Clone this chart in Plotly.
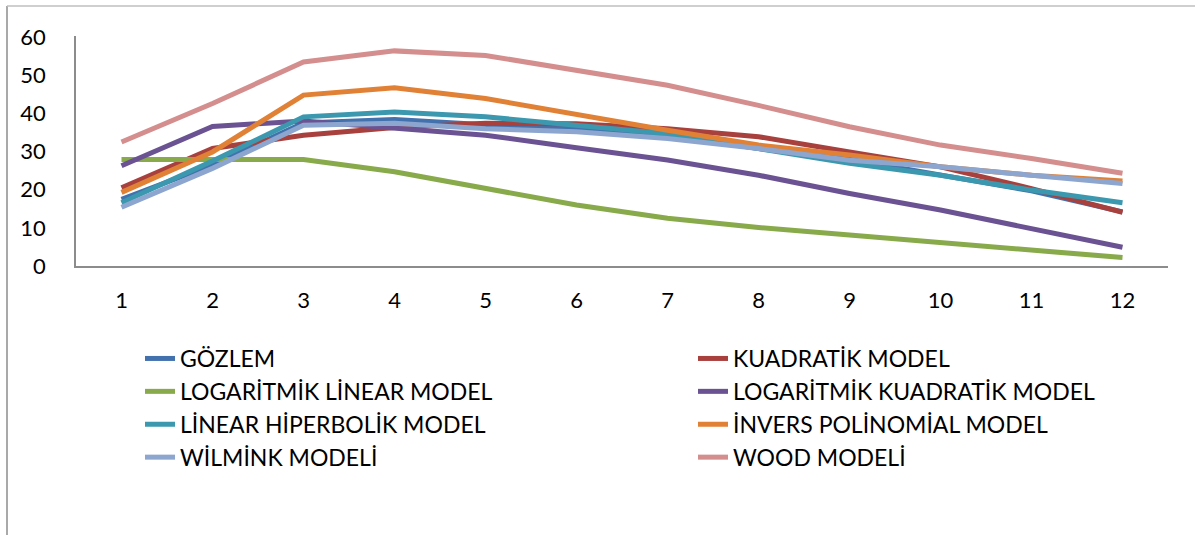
import plotly.graph_objects as go

# Lactation months
months = ["1", "2", "3", "4", "5", "6", "7", "8", "9", "10", "11", "12"]

gozlem = [17.5, 26.5, 37.5, 38.4, 37.0, 36.0, 34.3, 30.8, 28.0, 24.0, 19.7, 14.2]
kuadratik = [20.5, 30.8, 34.3, 36.3, 37.4, 37.3, 36.0, 33.9, 29.9, 26.0, 20.3, 14.1]
log_linear = [27.9, 27.9, 27.9, 24.7, 20.3, 16.0, 12.5, 10.1, 8.1, 6.1, 4.2, 2.2]
log_kuadratik = [26.3, 36.6, 38.0, 36.3, 34.3, 31.0, 27.8, 23.8, 19.0, 14.7, 9.9, 4.9]
linear_hiperbolik = [16.6, 27.5, 39.1, 40.4, 39.1, 36.9, 34.7, 30.8, 26.9, 23.8, 19.9, 16.6]
invers_polinomial = [19.3, 29.9, 44.8, 46.7, 43.9, 39.6, 35.6, 31.7, 29.1, 26.0, 23.8, 22.3]
wilmink = [15.4, 25.6, 36.9, 37.4, 36.0, 35.2, 33.4, 30.8, 27.7, 26.0, 23.8, 21.6]
wood = [32.5, 42.6, 53.5, 56.4, 55.2, 51.3, 47.4, 42.1, 36.5, 31.7, 28.2, 24.3]

series = [
    ("GÖZLEM", gozlem, "#4271AE"),
    ("KUADRATİK MODEL", kuadratik, "#A8403D"),
    ("LOGARİTMİK LİNEAR MODEL", log_linear, "#88AA4A"),
    ("LOGARİTMİK KUADRATİK MODEL", log_kuadratik, "#6B5292"),
    ("LİNEAR HİPERBOLİK MODEL", linear_hiperbolik, "#3B98AF"),
    ("İNVERS POLİNOMİAL MODEL", invers_polinomial, "#E08136"),
    ("WİLMİNK MODELİ", wilmink, "#8DA6CF"),
    ("WOOD MODELİ", wood, "#D48E8E"),
]

fig = go.Figure()
for i, (name, values, color) in enumerate(series):
    fig.add_trace(go.Scatter(
        x=months, y=values, name=name, mode="lines",
        line=dict(color=color, width=5),
        # two-column key: even entries left, odd entries right
        legend="legend" if i % 2 == 0 else "legend2",
    ))

font_family = "Lato, 'Open Sans', sans-serif"
W, H = 1195, 535
L, R, T, B = 76, 27, 36, 269
PW, PH = W - L - R, H - T - B

legend_common = dict(
    orientation="v", xref="container", yref="container",
    y=1 - 337 / H, xanchor="left", yanchor="top",
    itemwidth=30, bgcolor="rgba(0,0,0,0)",
    font=dict(family=font_family, size=23, color="#000000"),
)

# chart-area frame edges (left and top)
frame_x = (7 - L) / PW
frame_y = (H - B - 6) / PH

fig.update_layout(
    width=W, height=H,
    margin=dict(l=L, r=R, t=T, b=B, autoexpand=False),
    paper_bgcolor="white", plot_bgcolor="white",
    font=dict(family=font_family, size=22, color="#000000"),
    showlegend=True,
    legend=dict(x=140 / W, **legend_common),
    legend2=dict(x=693 / W, **legend_common),
    xaxis=dict(
        type="category", range=[-0.5, 11.5], showgrid=False, zeroline=False,
        showline=True, linecolor="#8C8C8C", linewidth=1.5,
        ticks="", ticklabelstandoff=14,
        tickfont=dict(size=22),
    ),
    yaxis=dict(
        range=[0, 60.3], tickvals=[0, 10, 20, 30, 40, 50, 60],
        showgrid=False, zeroline=False,
        showline=True, linecolor="#8C8C8C", linewidth=1.5,
        ticks="", ticklabelstandoff=24,
        tickfont=dict(size=22),
    ),
    shapes=[
        dict(type="line", xref="paper", yref="paper",
             x0=frame_x, x1=frame_x, y0=-1.5, y1=frame_y,
             line=dict(color="#8C8C8C", width=1.5)),
        dict(type="line", xref="paper", yref="paper",
             x0=frame_x, x1=1.1, y0=frame_y, y1=frame_y,
             line=dict(color="#BFBFBF", width=1.5)),
    ],
)

fig.write_html("out.html")
